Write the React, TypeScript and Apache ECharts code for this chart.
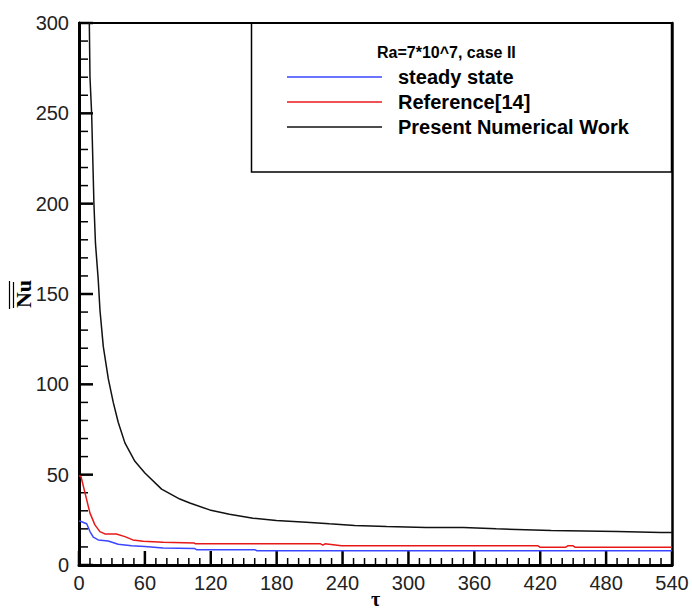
import React, { useEffect, useRef } from "react";
import * as echarts from "echarts";

const xTicks = [0, 60, 120, 180, 240, 300, 360, 420, 480, 540];
const yTicks = [0, 50, 100, 150, 200, 250, 300];
const xMinorSplit = 6;
const yMinorSplit = 5;

const steadyTau = [0, 1.8, 7, 10, 13, 17.5, 26.6, 35.7, 47.9, 60, 76.6, 105, 107, 160, 162, 540];
const steadyNu = [24.3, 24.1, 22.8, 18.5, 15.4, 13.9, 13.3, 11.5, 10.7, 10.2, 9.4, 9.2, 8.5, 8.5, 7.9, 7.9];

const refTau = [0, 1.8, 5.5, 10, 14.5, 19, 23.6, 34, 41.8, 49, 58.5, 76.7, 105, 106, 220, 222, 224, 239, 418, 420, 443, 445, 450, 452, 540];
const refNu = [49.5, 49, 39.8, 28.7, 22.2, 18.5, 17.2, 17.2, 15.7, 13.9, 13.2, 12.6, 12.2, 11.7, 11.7, 11, 11.7, 10.7, 10.6, 9.8, 9.8, 10.6, 10.6, 9.8, 9.8];

const presentTau = [8, 9.4, 10, 11.5, 13.6, 15, 17.5, 19.1, 22.1, 26.7, 31.2, 35.7, 41.8, 50.9, 60, 75.2, 91.8, 100.9, 119, 137, 158.5, 179.7, 207, 228, 251, 280, 316, 350, 380, 430, 490, 530, 540];
const presentNu = [330, 300, 270, 250, 200, 178, 158, 141, 121, 103, 90, 79, 67.6, 57.4, 50.9, 42, 36.5, 34.3, 30.5, 28.1, 25.9, 24.6, 23.7, 22.8, 21.9, 21.3, 20.7, 20.7, 20, 19.1, 18.5, 18, 18];

const seriesNames = ["steady state", "Reference[14]", "Present Numerical Work"];
const seriesColors = ["#3a46ff", "#e81818", "#111111"];
const titleText = "Ra=7*10^7, case II";

const zip = (a: number[], b: number[]) => a.map((v, i) => [v, b[i]]);

// minor tick positions between consecutive major ticks
const minorOf = (major: number[], split: number) => {
  const out: number[] = [];
  for (let i = 0; i < major.length - 1; i++) {
    const step = (major[i + 1] - major[i]) / split;
    for (let k = 1; k < split; k++) out.push(major[i] + step * k);
  }
  return out;
};

export default function App() {
  const ref = useRef<HTMLDivElement>(null);
  useEffect(() => {
    if (!ref.current) return;
    const chart = echarts.init(ref.current, null, { renderer: "svg" });
    const sans = "Arial, 'Liberation Sans', Helvetica, sans-serif";
    const serif = "'Times New Roman', 'Liberation Serif', 'DejaVu Serif', serif";
    const datas = [zip(steadyTau, steadyNu), zip(refTau, refNu), zip(presentTau, presentNu)];
    const xMin = xTicks[0];
    const xMax = xTicks[xTicks.length - 1];
    const yMin = yTicks[0];
    const yMax = yTicks[yTicks.length - 1];

    // tick table: [x, y, axis(0=x,1=y), length, width]
    const tickData: number[][] = [];
    xTicks.forEach((v) => tickData.push([v, yMin, 0, 14, 2.5]));
    minorOf(xTicks, xMinorSplit).forEach((v) => tickData.push([v, yMin, 0, 7, 1.5]));
    yTicks.forEach((v) => tickData.push([xMin, v, 1, 14, 2.5]));
    minorOf(yTicks, yMinorSplit).forEach((v) => tickData.push([xMin, v, 1, 9, 1.5]));

    const borderAxis = (position: string, min: number, max: number, width: number) => ({
      type: "value",
      position,
      min,
      max,
      axisLine: { show: true, onZero: false, lineStyle: { color: "#000", width } },
      axisTick: { show: false },
      minorTick: { show: false },
      axisLabel: { show: false },
      splitLine: { show: false },
    });

    chart.setOption({
      animation: false,
      backgroundColor: "#fff",
      grid: {
        left: 79,
        right: 20,
        top: 23,
        bottom: 47,
        show: false,
        containLabel: false,
        outerBoundsMode: "none",
      },
      legend: {
        orient: "vertical",
        left: 282,
        top: 62,
        icon: "rect",
        itemWidth: 95,
        itemHeight: 1.5,
        itemGap: 5,
        data: seriesNames,
        textStyle: {
          fontFamily: sans,
          fontSize: 20,
          fontWeight: "bold",
          color: "#000",
          lineHeight: 20,
          padding: [0, 0, 0, 11],
        },
      },
      graphic: [
        {
          type: "rect",
          shape: { x: 251.5, y: 23, width: 420, height: 149 },
          style: { fill: "#fff", stroke: "#000", lineWidth: 1.5 },
          z: -1,
        },
        {
          type: "text",
          left: 377,
          top: 44,
          style: {
            text: titleText,
            fontFamily: sans,
            fontSize: 16,
            fontWeight: "bold",
            fill: "#000",
          },
          z: 2,
        },
        {
          type: "line",
          shape: { x1: 9.5, y1: 281, x2: 9.5, y2: 309 },
          style: { stroke: "#000", lineWidth: 1.2 },
        },
        {
          type: "line",
          shape: { x1: 13.5, y1: 282, x2: 13.5, y2: 308 },
          style: { stroke: "#000", lineWidth: 1.2 },
        },
      ],
      xAxis: [
        {
          type: "value",
          min: xMin,
          max: xMax,
          interval: 60,
          name: "τ",
          nameLocation: "middle",
          nameGap: 24,
          nameMoveOverlap: false,
          nameTextStyle: { fontFamily: serif, fontSize: 20, fontWeight: "bold", color: "#000" },
          axisLine: { show: true, onZero: false, lineStyle: { color: "#000", width: 3 } },
          axisTick: { show: false },
          minorTick: { show: false },
          splitLine: { show: false },
          axisLabel: { fontFamily: sans, fontSize: 20, color: "#222", margin: 8 },
        },
        borderAxis("top", xMin, xMax, 2),
      ],
      yAxis: [
        {
          type: "value",
          min: yMin,
          max: yMax,
          interval: 50,
          name: "Nu",
          nameLocation: "middle",
          nameRotate: 90,
          nameGap: 45,
          nameMoveOverlap: false,
          nameTextStyle: { fontFamily: serif, fontSize: 22, fontWeight: "bold", color: "#000" },
          axisLine: { show: true, onZero: false, lineStyle: { color: "#000", width: 3 } },
          axisTick: { show: false },
          minorTick: { show: false },
          splitLine: { show: false },
          axisLabel: { fontFamily: sans, fontSize: 20, color: "#222", margin: 10 },
        },
        borderAxis("right", yMin, yMax, 2.5),
      ],
      series: [
        ...seriesNames.map((name, i) => ({
          name,
          type: "line",
          data: datas[i],
          showSymbol: false,
          symbol: "none",
          color: seriesColors[i],
          lineStyle: { color: seriesColors[i], width: 1.5 },
          itemStyle: { color: seriesColors[i] },
        })),
        {
          name: "ticks",
          type: "custom",
          silent: true,
          clip: false,
          xAxisIndex: 0,
          yAxisIndex: 0,
          encode: { x: 0, y: 1 },
          data: tickData,
          renderItem: (_params: any, api: any) => {
            const p = api.coord([api.value(0), api.value(1)]);
            const axis = api.value(2);
            const len = api.value(3);
            const w = api.value(4);
            const shape =
              axis === 0
                ? { x1: p[0], y1: p[1], x2: p[0], y2: p[1] - len }
                : { x1: p[0], y1: p[1], x2: p[0] + len, y2: p[1] };
            return { type: "line", shape, style: { stroke: "#000", lineWidth: w } };
          },
        },
      ],
    });
    return () => chart.dispose();
  }, []);
  return <div ref={ref} style={{ width: 692, height: 612, position: "absolute", left: 0, top: 0 }} />;
}
